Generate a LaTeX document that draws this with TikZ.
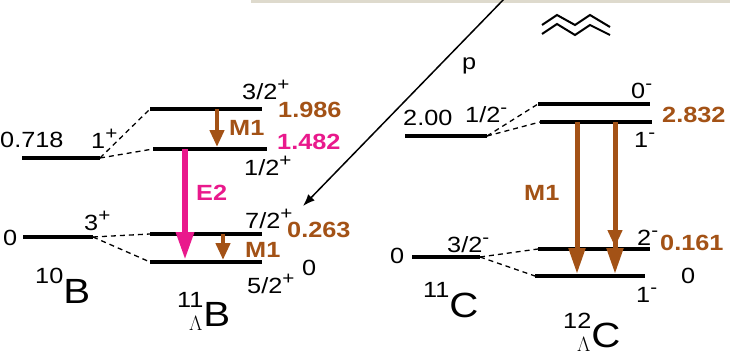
\documentclass[tikz,border=0pt]{standalone}
\usepackage{fontspec}
\setmainfont{Liberation Sans}[FakeStretch=1.15]
\usepackage{tikz}
\usetikzlibrary{arrows.meta}
\definecolor{gbrown}{RGB}{163,82,22}
\definecolor{gmag}{RGB}{233,25,140}
\definecolor{barcol}{RGB}{222,218,205}
\newcommand{\lblsize}{\fontsize{22}{22}\selectfont}
\newcommand{\spn}[1]{\raisebox{9pt}{\fontsize{18}{18}\selectfont #1}}
\newcommand{\nucl}[2]{\raisebox{20pt}{\lblsize #1}{\fontsize{35}{35}\selectfont #2}}
\newcommand{\hypnucl}[2]{\raisebox{19pt}{\lblsize #1}\llap{\raisebox{-4pt}{\lblsize$\Lambda$}\hspace{1pt}}{\fontsize{35}{35}\selectfont #2}}
\tikzstyle{level} = [line width=4.5pt]
\tikzstyle{split} = [line width=1.3pt, dash pattern=on 5pt off 4pt]
\tikzstyle{lbl} = [font=\lblsize, inner sep=0pt, anchor=base west]
\tikzstyle{ene} = [font=\lblsize\bfseries, inner sep=0pt, anchor=base west, text=gbrown]
\tikzstyle{mone} = [gbrown, line width=4.5pt, -{Triangle[width=14pt,length=17pt]}]
\tikzstyle{mlong} = [gbrown, line width=5pt, -{Triangle[width=16pt,length=26pt]}]
\tikzstyle{etwo} = [gmag, line width=6pt, -{Triangle[width=17pt,length=28pt]}]
\tikzstyle{beam} = [line width=1.5pt, -{Latex[width=9pt,length=12pt]}]

\begin{document}
\begin{tikzpicture}[x=1pt, y=-1pt]
        \useasboundingbox (0,0) rectangle (730,356);
        \fill[barcol] (251,0) rectangle (730,3);

        % 能级
        \coordinate (a1l) at (22,158);  \coordinate (a1r) at (100,158);
        \coordinate (a0l) at (23,237);  \coordinate (a0r) at (93,237);
        \coordinate (b3l) at (150,109); \coordinate (b3r) at (262,109);
        \coordinate (b2l) at (153,149); \coordinate (b2r) at (267,149);
        \coordinate (b1l) at (150,234); \coordinate (b1r) at (262,234);
        \coordinate (b0l) at (150,262); \coordinate (b0r) at (262,262);
        \coordinate (c1l) at (405,136); \coordinate (c1r) at (487,136);
        \coordinate (c0l) at (412,257); \coordinate (c0r) at (480,257);
        \coordinate (d3l) at (538,104); \coordinate (d3r) at (650,104);
        \coordinate (d2l) at (540,122); \coordinate (d2r) at (652,122);
        \coordinate (d1l) at (538,249); \coordinate (d1r) at (650,249);
        \coordinate (d0l) at (535,276); \coordinate (d0r) at (645,276);
        \foreach \lv in {a1,a0,b3,b2,b1,b0,c1,c0,d3,d2,d1,d0}
            \draw[level] (\lv l) -- (\lv r);

        \draw[split] (a1r) -- (b3l);
        \draw[split] (a1r) -- (b2l);
        \draw[split] (a0r) -- (b1l);
        \draw[split] (a0r) -- (b0l);
        \draw[split] (c1r) -- (d3l);
        \draw[split] (c1r) -- (d2l);
        \draw[split] (c0r) -- (d1l);
        \draw[split] (c0r) -- (d0l);

        % 跃迁
        \coordinate (xb1) at (217,0);
        \coordinate (xb2) at (185,0);
        \coordinate (xb3) at (223,0);
        \coordinate (xd1) at (577,0);
        \coordinate (xd2) at (615,0);
        \draw[mone, shorten >=2pt] (xb1 |- b3l) -- (xb1 |- b2l);
        \draw[etwo, shorten >=2pt] (xb2 |- b2l) -- (xb2 |- b0l);
        \draw[mone, shorten >=2pt] (xb3 |- b1l) -- (xb3 |- b0l);
        \draw[mlong, shorten >=2pt] (xd1 |- d2l) -- (xd1 |- d0l);
        \draw[mone, shorten >=2pt] (xd2 |- d2l) -- (xd2 |- d1l);
        \draw[mlong, shorten >=2pt] (xd2 |- d2l) -- (xd2 |- d0l);

        % 质子
        \coordinate (pfrom) at (506,-3);
        \coordinate (pto) at (303,206);
        \draw[beam] (pfrom) -- (pto);
        \node[lbl] (plbl) at (462,69) {p};

        \draw[line width=2pt] (542,25) -- (557,15) -- (575,25) -- (590,15) -- (610,27);
        \draw[line width=2pt] (542,34) -- (557,24) -- (575,35) -- (590,25) -- (610,35);

        % 标注
        \node[lbl] (ea1) at (0,147) {0.718};
        \node[lbl] (ja1) at (91,148) {1\spn{+}};
        \node[lbl] (ea0) at (3,245) {0};
        \node[lbl] (ja0) at (84,230) {3\spn{+}};
        \node[lbl] (jb3) at (242,99) {3/2\spn{+}};
        \node[ene] (eb3) at (278,117) {1.986};
        \node[ene] (mb1) at (229,135) {M1};
        \node[ene, text=gmag] (eb2) at (277,149) {1.482};
        \node[lbl] (jb2) at (244,175) {1/2\spn{+}};
        \node[ene, text=gmag] (e2) at (196,200) {E2};
        \node[lbl] (jb1) at (245,228) {7/2\spn{+}};
        \node[ene] (eb1) at (287,237) {0.263};
        \node[ene] (mb2) at (245,257) {M1};
        \node[lbl] (eb0) at (302,275) {0};
        \node[lbl] (jb0) at (247,293) {5/2\spn{+}};
        \node[lbl] (nb10) at (35,303) {\nucl{10}{B}};
        \node[lbl] (nb11) at (177,326) {\hypnucl{11}{B}};

        \node[lbl] (ec1) at (403,125) {2.00};
        \node[lbl] (jc1) at (465,122) {1/2\spn{-}};
        \node[lbl] (ec0) at (390,263) {0};
        \node[lbl] (jc0) at (447,252) {3/2\spn{-}};
        \node[lbl] (nc11) at (423,317) {\nucl{11}{C}};
        \node[lbl] (jd3) at (631,98) {0\spn{-}};
        \node[ene] (ed2) at (662,122) {2.832};
        \node[lbl] (jd2) at (634,147) {1\spn{-}};
        \node[ene] (md1) at (524,200) {M1};
        \node[lbl] (jd1) at (637,245) {2\spn{-}};
        \node[ene] (ed1) at (660,250) {0.161};
        \node[lbl] (ed0) at (681,283) {0};
        \node[lbl] (jd0) at (636,302) {1\spn{-}};
        \node[lbl] (nc12) at (563,347) {\hypnucl{12}{C}};
    \end{tikzpicture}
\end{document}
